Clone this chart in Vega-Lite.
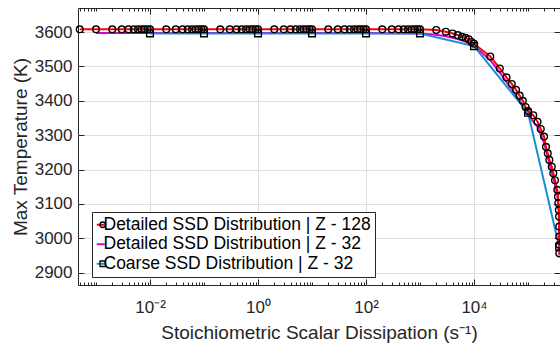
{
  "$schema": "https://vega.github.io/schema/vega-lite/v6.json",
  "width": 482,
  "height": 277,
  "autosize": {"type": "none"},
  "padding": {"left": 78, "top": 8, "right": 0, "bottom": 59},
  "background": "white",
  "config": {
    "font": "Liberation Sans",
    "view": {"stroke": "#262626", "strokeWidth": 1}
  },
  "data": {
    "values": [
      {"series": "Detailed SSD Distribution | Z - 128", "chi": 0.0005, "T": 3608},
      {"series": "Detailed SSD Distribution | Z - 128", "chi": 0.001, "T": 3608},
      {"series": "Detailed SSD Distribution | Z - 128", "chi": 0.002, "T": 3608},
      {"series": "Detailed SSD Distribution | Z - 128", "chi": 0.003, "T": 3608},
      {"series": "Detailed SSD Distribution | Z - 128", "chi": 0.004, "T": 3608},
      {"series": "Detailed SSD Distribution | Z - 128", "chi": 0.005, "T": 3608},
      {"series": "Detailed SSD Distribution | Z - 128", "chi": 0.006, "T": 3608},
      {"series": "Detailed SSD Distribution | Z - 128", "chi": 0.007, "T": 3608},
      {"series": "Detailed SSD Distribution | Z - 128", "chi": 0.008, "T": 3608},
      {"series": "Detailed SSD Distribution | Z - 128", "chi": 0.009, "T": 3608},
      {"series": "Detailed SSD Distribution | Z - 128", "chi": 0.01, "T": 3608},
      {"series": "Detailed SSD Distribution | Z - 128", "chi": 0.02, "T": 3608},
      {"series": "Detailed SSD Distribution | Z - 128", "chi": 0.03, "T": 3608},
      {"series": "Detailed SSD Distribution | Z - 128", "chi": 0.04, "T": 3608},
      {"series": "Detailed SSD Distribution | Z - 128", "chi": 0.05, "T": 3608},
      {"series": "Detailed SSD Distribution | Z - 128", "chi": 0.06, "T": 3608},
      {"series": "Detailed SSD Distribution | Z - 128", "chi": 0.07, "T": 3608},
      {"series": "Detailed SSD Distribution | Z - 128", "chi": 0.08, "T": 3608},
      {"series": "Detailed SSD Distribution | Z - 128", "chi": 0.09, "T": 3608},
      {"series": "Detailed SSD Distribution | Z - 128", "chi": 0.1, "T": 3608},
      {"series": "Detailed SSD Distribution | Z - 128", "chi": 0.2, "T": 3608},
      {"series": "Detailed SSD Distribution | Z - 128", "chi": 0.3, "T": 3608},
      {"series": "Detailed SSD Distribution | Z - 128", "chi": 0.4, "T": 3608},
      {"series": "Detailed SSD Distribution | Z - 128", "chi": 0.5, "T": 3608},
      {"series": "Detailed SSD Distribution | Z - 128", "chi": 0.6, "T": 3608},
      {"series": "Detailed SSD Distribution | Z - 128", "chi": 0.7, "T": 3608},
      {"series": "Detailed SSD Distribution | Z - 128", "chi": 0.8, "T": 3608},
      {"series": "Detailed SSD Distribution | Z - 128", "chi": 0.9, "T": 3608},
      {"series": "Detailed SSD Distribution | Z - 128", "chi": 1, "T": 3608},
      {"series": "Detailed SSD Distribution | Z - 128", "chi": 2, "T": 3608},
      {"series": "Detailed SSD Distribution | Z - 128", "chi": 3, "T": 3608},
      {"series": "Detailed SSD Distribution | Z - 128", "chi": 4, "T": 3608},
      {"series": "Detailed SSD Distribution | Z - 128", "chi": 5, "T": 3608},
      {"series": "Detailed SSD Distribution | Z - 128", "chi": 6, "T": 3608},
      {"series": "Detailed SSD Distribution | Z - 128", "chi": 7, "T": 3608},
      {"series": "Detailed SSD Distribution | Z - 128", "chi": 8, "T": 3608},
      {"series": "Detailed SSD Distribution | Z - 128", "chi": 9, "T": 3608},
      {"series": "Detailed SSD Distribution | Z - 128", "chi": 10, "T": 3608},
      {"series": "Detailed SSD Distribution | Z - 128", "chi": 20, "T": 3608},
      {"series": "Detailed SSD Distribution | Z - 128", "chi": 30, "T": 3608},
      {"series": "Detailed SSD Distribution | Z - 128", "chi": 40, "T": 3608},
      {"series": "Detailed SSD Distribution | Z - 128", "chi": 50, "T": 3608},
      {"series": "Detailed SSD Distribution | Z - 128", "chi": 60, "T": 3608},
      {"series": "Detailed SSD Distribution | Z - 128", "chi": 70, "T": 3608},
      {"series": "Detailed SSD Distribution | Z - 128", "chi": 80, "T": 3608},
      {"series": "Detailed SSD Distribution | Z - 128", "chi": 90, "T": 3608},
      {"series": "Detailed SSD Distribution | Z - 128", "chi": 100, "T": 3608},
      {"series": "Detailed SSD Distribution | Z - 128", "chi": 200, "T": 3608},
      {"series": "Detailed SSD Distribution | Z - 128", "chi": 300, "T": 3608},
      {"series": "Detailed SSD Distribution | Z - 128", "chi": 400, "T": 3608},
      {"series": "Detailed SSD Distribution | Z - 128", "chi": 500, "T": 3608},
      {"series": "Detailed SSD Distribution | Z - 128", "chi": 600, "T": 3608},
      {"series": "Detailed SSD Distribution | Z - 128", "chi": 700, "T": 3608},
      {"series": "Detailed SSD Distribution | Z - 128", "chi": 800, "T": 3608},
      {"series": "Detailed SSD Distribution | Z - 128", "chi": 900, "T": 3608},
      {"series": "Detailed SSD Distribution | Z - 128", "chi": 1000, "T": 3608},
      {"series": "Detailed SSD Distribution | Z - 128", "chi": 2000, "T": 3606},
      {"series": "Detailed SSD Distribution | Z - 128", "chi": 3000, "T": 3601},
      {"series": "Detailed SSD Distribution | Z - 128", "chi": 4000, "T": 3596},
      {"series": "Detailed SSD Distribution | Z - 128", "chi": 5000, "T": 3591},
      {"series": "Detailed SSD Distribution | Z - 128", "chi": 6000, "T": 3586},
      {"series": "Detailed SSD Distribution | Z - 128", "chi": 7000, "T": 3583},
      {"series": "Detailed SSD Distribution | Z - 128", "chi": 8000, "T": 3579},
      {"series": "Detailed SSD Distribution | Z - 128", "chi": 9000, "T": 3571},
      {"series": "Detailed SSD Distribution | Z - 128", "chi": 10000, "T": 3566},
      {"series": "Detailed SSD Distribution | Z - 128", "chi": 20000, "T": 3529},
      {"series": "Detailed SSD Distribution | Z - 128", "chi": 30000, "T": 3494},
      {"series": "Detailed SSD Distribution | Z - 128", "chi": 40000, "T": 3468},
      {"series": "Detailed SSD Distribution | Z - 128", "chi": 50000, "T": 3449},
      {"series": "Detailed SSD Distribution | Z - 128", "chi": 60000, "T": 3432},
      {"series": "Detailed SSD Distribution | Z - 128", "chi": 70000, "T": 3415},
      {"series": "Detailed SSD Distribution | Z - 128", "chi": 80000, "T": 3400},
      {"series": "Detailed SSD Distribution | Z - 128", "chi": 90000, "T": 3382},
      {"series": "Detailed SSD Distribution | Z - 128", "chi": 100000, "T": 3370},
      {"series": "Detailed SSD Distribution | Z - 128", "chi": 125000, "T": 3358},
      {"series": "Detailed SSD Distribution | Z - 128", "chi": 150000, "T": 3339},
      {"series": "Detailed SSD Distribution | Z - 128", "chi": 172000, "T": 3318},
      {"series": "Detailed SSD Distribution | Z - 128", "chi": 198000, "T": 3296},
      {"series": "Detailed SSD Distribution | Z - 128", "chi": 215000, "T": 3266},
      {"series": "Detailed SSD Distribution | Z - 128", "chi": 232000, "T": 3247},
      {"series": "Detailed SSD Distribution | Z - 128", "chi": 248000, "T": 3228},
      {"series": "Detailed SSD Distribution | Z - 128", "chi": 275000, "T": 3208},
      {"series": "Detailed SSD Distribution | Z - 128", "chi": 294000, "T": 3189},
      {"series": "Detailed SSD Distribution | Z - 128", "chi": 316000, "T": 3169},
      {"series": "Detailed SSD Distribution | Z - 128", "chi": 349000, "T": 3141},
      {"series": "Detailed SSD Distribution | Z - 128", "chi": 359000, "T": 3121},
      {"series": "Detailed SSD Distribution | Z - 128", "chi": 364000, "T": 3102},
      {"series": "Detailed SSD Distribution | Z - 128", "chi": 372000, "T": 3082},
      {"series": "Detailed SSD Distribution | Z - 128", "chi": 376000, "T": 3063},
      {"series": "Detailed SSD Distribution | Z - 128", "chi": 378000, "T": 3034},
      {"series": "Detailed SSD Distribution | Z - 128", "chi": 379000, "T": 3005},
      {"series": "Detailed SSD Distribution | Z - 128", "chi": 379500, "T": 2981},
      {"series": "Detailed SSD Distribution | Z - 128", "chi": 380000, "T": 2956},
      {"series": "Detailed SSD Distribution | Z - 32", "chi": 0.001, "T": 3597},
      {"series": "Detailed SSD Distribution | Z - 32", "chi": 0.01, "T": 3597},
      {"series": "Detailed SSD Distribution | Z - 32", "chi": 0.1, "T": 3597},
      {"series": "Detailed SSD Distribution | Z - 32", "chi": 1, "T": 3597},
      {"series": "Detailed SSD Distribution | Z - 32", "chi": 10, "T": 3597},
      {"series": "Detailed SSD Distribution | Z - 32", "chi": 100, "T": 3597},
      {"series": "Detailed SSD Distribution | Z - 32", "chi": 1000, "T": 3596},
      {"series": "Detailed SSD Distribution | Z - 32", "chi": 2000, "T": 3592},
      {"series": "Detailed SSD Distribution | Z - 32", "chi": 3000, "T": 3588},
      {"series": "Detailed SSD Distribution | Z - 32", "chi": 5000, "T": 3580},
      {"series": "Detailed SSD Distribution | Z - 32", "chi": 7000, "T": 3572},
      {"series": "Detailed SSD Distribution | Z - 32", "chi": 10000, "T": 3560},
      {"series": "Detailed SSD Distribution | Z - 32", "chi": 20000, "T": 3518},
      {"series": "Detailed SSD Distribution | Z - 32", "chi": 30000, "T": 3482},
      {"series": "Detailed SSD Distribution | Z - 32", "chi": 50000, "T": 3434},
      {"series": "Detailed SSD Distribution | Z - 32", "chi": 70000, "T": 3400},
      {"series": "Detailed SSD Distribution | Z - 32", "chi": 100000, "T": 3358},
      {"series": "Detailed SSD Distribution | Z - 32", "chi": 150000, "T": 3324},
      {"series": "Detailed SSD Distribution | Z - 32", "chi": 200000, "T": 3276},
      {"series": "Detailed SSD Distribution | Z - 32", "chi": 250000, "T": 3216},
      {"series": "Detailed SSD Distribution | Z - 32", "chi": 300000, "T": 3170},
      {"series": "Detailed SSD Distribution | Z - 32", "chi": 350000, "T": 3124},
      {"series": "Detailed SSD Distribution | Z - 32", "chi": 370000, "T": 3075},
      {"series": "Detailed SSD Distribution | Z - 32", "chi": 380000, "T": 3000},
      {"series": "Detailed SSD Distribution | Z - 32", "chi": 382000, "T": 2950},
      {"series": "Coarse SSD Distribution | Z - 32", "chi": 0.01, "T": 3596},
      {"series": "Coarse SSD Distribution | Z - 32", "chi": 0.1, "T": 3596},
      {"series": "Coarse SSD Distribution | Z - 32", "chi": 1, "T": 3596},
      {"series": "Coarse SSD Distribution | Z - 32", "chi": 10, "T": 3596},
      {"series": "Coarse SSD Distribution | Z - 32", "chi": 100, "T": 3596},
      {"series": "Coarse SSD Distribution | Z - 32", "chi": 1000, "T": 3596},
      {"series": "Coarse SSD Distribution | Z - 32", "chi": 10000, "T": 3559},
      {"series": "Coarse SSD Distribution | Z - 32", "chi": 100000, "T": 3365},
      {"series": "Coarse SSD Distribution | Z - 32", "chi": 378000, "T": 2975}
    ]
  },
  "layer": [
    {
      "transform": [{"filter": "datum.series === 'Detailed SSD Distribution | Z - 32'"}],
      "mark": {"type": "line", "strokeWidth": 2},
      "encoding": {
        "x": {
          "field": "chi",
          "type": "quantitative",
          "scale": {"type": "log", "domain": [0.000464, 391000], "nice": false},
          "axis": {
            "orient": "bottom",
            "values": [0.0005, 0.0006, 0.0007, 0.0008, 0.0009, 0.001, 0.002, 0.003, 0.004, 0.005, 0.006, 0.007, 0.008, 0.009, 0.01, 0.02, 0.03, 0.04, 0.05, 0.06, 0.07, 0.08, 0.09, 0.1, 0.2, 0.3, 0.4, 0.5, 0.6, 0.7, 0.8, 0.9, 1, 2, 3, 4, 5, 6, 7, 8, 9, 10, 20, 30, 40, 50, 60, 70, 80, 90, 100, 200, 300, 400, 500, 600, 700, 800, 900, 1000, 2000, 3000, 4000, 5000, 6000, 7000, 8000, 9000, 10000, 20000, 30000, 40000, 50000, 60000, 70000, 80000, 90000, 100000, 200000, 300000],
            "labelExpr": "datum.value == 0.01 ? '10⁻²' : datum.value == 1 ? '10⁰' : datum.value == 100 ? '10²' : datum.value == 10000 ? '10⁴' : ''",
            "labelOverlap": false,
            "labelFlush": false,
            "labelFontSize": 17,
            "labelColor": "#262626",
            "labelPadding": 20,
            "tickSize": {"condition": {"test": "indexof([0.01, 1, 100, 10000], datum.value) >= 0", "value": -6}, "value": -3},
            "tickColor": "#262626",
            "domain": false,
            "grid": true,
            "gridColor": "#dfdfdf",
            "gridOpacity": {"condition": {"test": "indexof([0.01, 1, 100, 10000], datum.value) >= 0", "value": 1}, "value": 0},
            "title": "Stoichiometric Scalar Dissipation (s⁻¹)",
            "titleFontSize": 19,
            "titleFontWeight": "normal",
            "titleColor": "#262626",
            "titlePadding": 5
          }
        },
        "y": {
          "field": "T",
          "type": "quantitative",
          "scale": {"domain": [2864, 3670], "nice": false, "zero": false},
          "axis": {
            "orient": "left",
            "values": [2900, 3000, 3100, 3200, 3300, 3400, 3500, 3600],
            "format": "d",
            "labelFontSize": 17,
            "labelColor": "#262626",
            "labelPadding": 12,
            "tickSize": -6,
            "tickColor": "#262626",
            "domain": false,
            "grid": true,
            "gridColor": "#dfdfdf",
            "title": "Max Temperature (K)",
            "titleFontSize": 19,
            "titleFontWeight": "normal",
            "titleColor": "#262626",
            "titlePadding": 4
          }
        },
        "color": {
          "field": "series",
          "type": "nominal",
          "scale": {
            "domain": ["Detailed SSD Distribution | Z - 128", "Detailed SSD Distribution | Z - 32", "Coarse SSD Distribution | Z - 32"],
            "range": ["#ff0000", "#d400d4", "#1590d8"]
          },
          "legend": {
            "title": null,
            "orient": "none",
            "legendX": 14,
            "legendY": 204,
            "symbolType": "stroke",
            "symbolSize": 64,
            "symbolStrokeWidth": 2,
            "symbolOffset": -4,
            "labelFontSize": 17.5,
            "labelFont": "Liberation Sans",
            "labelColor": "#000000",
            "labelOffset": -6,
            "labelLimit": 0,
            "padding": 4,
            "rowPadding": 0.5,
            "strokeColor": "#262626",
            "fillColor": "#ffffff",
            "cornerRadius": 0
          }
        }
      }
    },
    {
      "transform": [{"filter": "datum.series === 'Coarse SSD Distribution | Z - 32'"}],
      "mark": {"type": "line", "strokeWidth": 2},
      "encoding": {
        "x": {
          "field": "chi",
          "type": "quantitative",
          "scale": {"type": "log", "domain": [0.000464, 391000], "nice": false},
          "axis": {
            "orient": "top",
            "values": [0.0005, 0.0006, 0.0007, 0.0008, 0.0009, 0.001, 0.002, 0.003, 0.004, 0.005, 0.006, 0.007, 0.008, 0.009, 0.01, 0.02, 0.03, 0.04, 0.05, 0.06, 0.07, 0.08, 0.09, 0.1, 0.2, 0.3, 0.4, 0.5, 0.6, 0.7, 0.8, 0.9, 1, 2, 3, 4, 5, 6, 7, 8, 9, 10, 20, 30, 40, 50, 60, 70, 80, 90, 100, 200, 300, 400, 500, 600, 700, 800, 900, 1000, 2000, 3000, 4000, 5000, 6000, 7000, 8000, 9000, 10000, 20000, 30000, 40000, 50000, 60000, 70000, 80000, 90000, 100000, 200000, 300000],
            "labels": false,
            "tickSize": {"condition": {"test": "indexof([0.01, 1, 100, 10000], datum.value) >= 0", "value": -6}, "value": -3},
            "tickColor": "#262626",
            "domain": false,
            "grid": false,
            "title": null
          }
        },
        "y": {
          "field": "T",
          "type": "quantitative",
          "scale": {"domain": [2864, 3670], "nice": false, "zero": false},
          "axis": {
            "orient": "right",
            "values": [2900, 3000, 3100, 3200, 3300, 3400, 3500, 3600],
            "labels": false,
            "tickSize": -6,
            "tickColor": "#262626",
            "domain": false,
            "grid": false,
            "title": null
          }
        },
        "color": {"field": "series", "type": "nominal"}
      }
    },
    {
      "transform": [{"filter": "datum.series === 'Detailed SSD Distribution | Z - 128'"}],
      "mark": {"type": "line", "strokeWidth": 2},
      "encoding": {
        "x": {"field": "chi", "type": "quantitative", "scale": {"type": "log", "domain": [0.000464, 391000], "nice": false}, "axis": null},
        "y": {"field": "T", "type": "quantitative", "scale": {"domain": [2864, 3670], "nice": false, "zero": false}, "axis": null},
        "color": {"field": "series", "type": "nominal"}
      }
    },
    {
      "mark": {"type": "point", "filled": false, "strokeWidth": 1.4, "size": 45, "opacity": 1, "color": "#000000"},
      "encoding": {
        "x": {"field": "chi", "type": "quantitative", "scale": {"type": "log", "domain": [0.000464, 391000], "nice": false}, "axis": null},
        "y": {"field": "T", "type": "quantitative", "scale": {"domain": [2864, 3670], "nice": false, "zero": false}, "axis": null},
        "shape": {
          "field": "series",
          "type": "nominal",
          "sort": ["Detailed SSD Distribution | Z - 128", "Detailed SSD Distribution | Z - 32", "Coarse SSD Distribution | Z - 32"],
          "scale": {"range": ["circle", "M0,0", "square"]},
          "legend": {
            "title": null,
            "orient": "none",
            "legendX": 14,
            "legendY": 204,
            "symbolSize": 30,
            "symbolStrokeWidth": 1.3,
            "symbolStrokeColor": "#000000",
            "symbolFillColor": "transparent",
            "symbolOffset": -2,
            "labelExpr": "''",
            "labelFontSize": 17.5,
            "labelFont": "Liberation Sans",
            "labelOffset": 0,
            "labelLimit": 0,
            "padding": 4,
            "rowPadding": 0.5,
            "strokeColor": null,
            "fillColor": null
          }
        }
      }
    }
  ],
  "resolve": {"axis": {"x": "independent", "y": "independent"}}
}
